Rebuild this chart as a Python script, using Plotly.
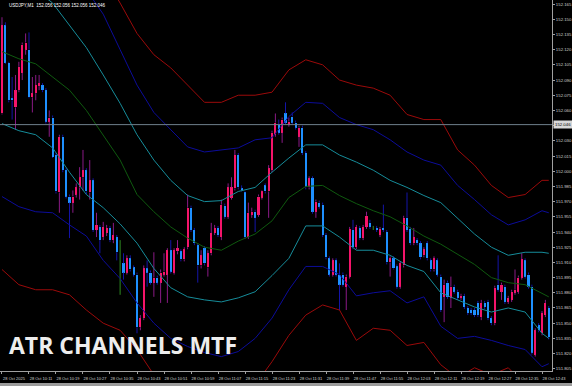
import plotly.graph_objects as go

# ---------------- data ----------------
bar_index = list(range(163))

opens = [152.057,152.144,152.107,152.072,152.063,152.080,152.097,152.120,152.120,152.073,
         152.077,152.084,152.085,152.080,152.049,152.053,152.016,151.979,152.034,152.001,
         151.975,151.969,151.977,151.984,151.994,152.001,151.979,151.991,151.942,151.945,
         151.935,151.939,151.944,151.932,151.935,151.910,151.909,151.900,151.914,151.905,
         151.898,151.846,151.855,151.904,151.900,151.890,151.895,151.890,151.898,151.898,
         151.922,151.900,151.921,151.921,151.913,151.925,151.964,151.942,151.927,151.907,
         151.924,151.905,151.919,151.939,151.944,151.935,151.966,151.955,151.974,151.983,
         152.016,151.983,151.979,151.935,151.957,151.960,151.957,151.974,151.986,151.980,
         152.001,152.036,152.046,152.038,152.057,152.046,152.054,152.048,152.034,152.043,
         152.018,151.984,151.993,151.960,151.969,151.967,151.937,151.914,151.898,151.912,
         151.898,151.898,151.886,151.896,151.942,151.925,151.944,151.934,151.945,151.949,
         151.944,151.944,151.937,151.944,151.940,151.910,151.914,151.906,151.886,151.907,
         151.954,151.943,151.929,151.932,151.929,151.917,151.929,151.912,151.903,151.912,
         151.896,151.876,151.890,151.875,151.886,151.881,151.875,151.877,151.865,151.863,
         151.863,151.870,151.856,151.870,151.871,151.855,151.850,151.888,151.881,151.886,
         151.871,151.873,151.880,151.881,151.895,151.912,151.898,151.886,151.819,151.848,
         151.840,151.858,151.865]

highs = [152.152,152.147,152.108,152.093,152.095,152.108,152.127,152.136,152.137,152.093,
         152.095,152.095,152.087,152.082,152.060,152.055,152.018,152.036,152.036,152.003,
         151.977,151.981,151.988,152.004,152.021,152.003,152.011,151.993,151.959,151.947,
         151.950,151.947,151.946,151.949,151.937,151.932,151.919,151.917,151.917,151.907,
         151.900,151.858,151.907,151.912,151.902,151.920,151.897,151.903,151.919,151.924,
         151.932,151.924,151.932,151.923,151.925,151.977,151.966,151.944,151.929,151.922,
         151.926,151.922,151.949,151.947,151.946,151.972,151.968,151.988,151.994,152.021,
         152.018,151.986,151.980,151.969,151.964,151.962,151.977,151.981,151.988,152.006,
         152.040,152.057,152.051,152.053,152.068,152.053,152.058,152.050,152.045,152.045,
         152.020,151.995,151.995,151.972,151.971,151.969,151.939,151.916,151.914,151.914,
         151.909,151.900,151.898,151.945,151.952,151.947,151.946,151.947,151.960,151.952,
         151.946,151.946,151.945,151.967,151.942,151.916,151.916,151.908,151.911,151.956,
         151.979,151.945,151.944,151.934,151.931,151.925,151.931,151.914,151.916,151.914,
         151.898,151.893,151.892,151.896,151.888,151.883,151.879,151.879,151.867,151.865,
         151.865,151.872,151.873,151.872,151.873,151.857,151.887,151.917,151.890,151.888,
         151.877,151.883,151.903,151.897,151.919,151.914,151.900,151.888,151.845,151.850,
         151.862,151.873,151.867]

lows = [152.056,152.106,152.068,152.051,152.041,152.078,152.090,152.115,152.072,152.058,
        152.070,152.080,152.078,152.047,152.034,152.013,151.978,151.959,151.999,151.973,
        151.934,151.959,151.974,151.972,151.981,151.977,151.972,151.940,151.935,151.919,
        151.932,151.936,151.930,151.929,151.912,151.878,151.893,151.898,151.901,151.896,
        151.840,151.843,151.853,151.886,151.888,151.876,151.888,151.870,151.896,151.870,
        151.899,151.898,151.918,151.911,151.911,151.923,151.940,151.927,151.890,151.904,
        151.907,151.896,151.917,151.937,151.935,151.932,151.953,151.953,151.972,151.981,
        151.982,151.980,151.933,151.933,151.954,151.940,151.955,151.972,151.978,151.954,
        151.999,152.034,152.036,152.028,152.046,152.044,152.046,152.041,152.024,152.016,
        151.982,151.982,151.958,151.954,151.963,151.935,151.913,151.896,151.896,151.896,
        151.863,151.886,151.863,151.894,151.923,151.923,151.932,151.932,151.943,151.943,
        151.942,151.940,151.935,151.940,151.908,151.896,151.903,151.884,151.884,151.905,
        151.940,151.927,151.927,151.927,151.913,151.915,151.912,151.901,151.901,151.896,
        151.861,151.851,151.874,151.865,151.879,151.873,151.873,151.864,151.858,151.858,
        151.856,151.856,151.853,151.864,151.853,151.848,151.848,151.881,151.873,151.869,
        151.869,151.871,151.878,151.879,151.893,151.894,151.884,151.819,151.817,151.841,
        151.838,151.856,151.834]

closes = [152.144,152.107,152.070,152.070,152.080,152.103,152.125,152.127,152.073,152.077,
          152.085,152.087,152.080,152.049,152.053,152.014,151.980,152.034,152.001,151.975,
          151.969,151.975,151.984,151.994,152.001,151.980,151.991,151.942,151.947,151.932,
          151.945,151.944,151.932,151.937,151.920,151.910,151.900,151.914,151.903,151.898,
          151.846,151.855,151.904,151.900,151.890,151.895,151.890,151.900,151.901,151.922,
          151.901,151.922,151.924,151.913,151.923,151.964,151.942,151.929,151.907,151.917,
          151.909,151.919,151.939,151.944,151.937,151.967,151.955,151.984,151.984,152.016,
          151.984,151.981,151.935,151.959,151.960,151.954,151.975,151.980,151.980,152.003,
          152.038,152.048,152.038,152.051,152.048,152.049,152.048,152.043,152.043,152.018,
          151.984,151.993,151.960,151.970,151.965,151.937,151.915,151.898,151.912,151.898,
          151.888,151.888,151.896,151.943,151.925,151.945,151.934,151.945,151.956,151.945,
          151.944,151.942,151.943,151.942,151.910,151.914,151.904,151.886,151.909,151.954,
          151.942,151.929,151.935,151.929,151.915,151.923,151.914,151.903,151.914,151.898,
          151.863,151.888,151.876,151.886,151.881,151.875,151.877,151.866,151.860,151.860,
          151.858,151.858,151.870,151.866,151.855,151.850,151.885,151.883,151.888,151.871,
          151.875,151.881,151.883,151.895,151.913,151.896,151.886,151.821,151.843,151.843,
          151.860,151.870,151.836]

# ATR channel lines (sampled at these bars)
line_bars = [0,5,10,15,20,25,30,35,40,45,50,55,60,65,70,75,80,85,90,95,100,
             105,110,115,120,125,130,135,140,145,150,155,160,162]

upper_red = [152.327,152.307,152.287,152.263,152.238,152.213,152.194,152.166,152.136,152.115,
             152.102,152.085,152.068,152.068,152.075,152.075,152.078,152.100,152.110,152.105,
             152.090,152.085,152.082,152.075,152.056,152.051,152.051,152.021,152.006,151.986,
             151.974,151.977,151.991,151.991]
upper_navy = [152.258,152.248,152.238,152.223,152.208,152.179,152.155,152.120,152.085,152.058,
              152.041,152.024,152.019,152.021,152.023,152.031,152.033,152.054,152.068,152.067,
              152.053,152.046,152.041,152.031,152.019,152.011,152.006,151.986,151.972,151.957,
              151.947,151.952,151.961,151.959]
upper_teal = [152.194,152.187,152.179,152.166,152.144,152.122,152.095,152.067,152.036,152.011,
              151.991,151.976,151.970,151.971,151.980,151.984,151.999,152.013,152.026,152.026,
              152.016,152.009,152.001,151.991,151.984,151.976,151.969,151.954,151.938,151.925,
              151.917,151.920,151.920,151.919]
middle_green = [152.118,152.111,152.106,152.093,152.080,152.060,152.036,152.011,151.977,151.960,
                151.945,151.934,151.925,151.922,151.931,151.938,151.951,151.974,151.985,151.986,
                151.976,151.968,151.961,151.955,151.946,151.936,151.928,151.918,151.908,151.895,
                151.890,151.888,151.880,151.876]
lower_teal = [152.047,152.040,152.036,152.023,151.999,151.977,151.964,151.948,151.929,151.904,
              151.885,151.876,151.873,151.871,151.875,151.881,151.897,151.914,151.946,151.946,
              151.935,151.922,151.922,151.917,151.907,151.901,151.880,151.873,151.866,151.861,
              151.865,151.861,151.840,151.835]
lower_navy = [151.975,151.965,151.960,151.959,151.947,151.936,151.912,151.894,151.870,151.850,
              151.835,151.827,151.821,151.817,151.822,151.835,151.855,151.883,151.906,151.906,
              151.898,151.877,151.880,151.882,151.870,151.876,151.847,151.835,151.837,151.833,
              151.828,151.824,151.807,151.810]
lower_red = [151.903,151.888,151.883,151.883,151.878,151.863,151.850,151.843,151.824,151.799,
             151.779,151.769,151.764,151.764,151.769,151.789,151.812,151.838,151.858,151.868,
             151.863,151.833,151.845,151.843,151.828,151.831,151.809,151.796,151.806,151.799,
             151.806,151.789,151.774,151.774]

tick_bars = [0,8,16,24,32,40,48,56,64,72,80,88,96,104,112,120,128,136,144,152,160]
tick_labels = ["28 Oct 2025","28 Oct 10:11","28 Oct 10:19","28 Oct 10:27","28 Oct 10:35",
               "28 Oct 10:43","28 Oct 10:51","28 Oct 10:59","28 Oct 11:07","28 Oct 11:15",
               "28 Oct 11:23","28 Oct 11:31","28 Oct 11:39","28 Oct 11:47","28 Oct 11:55",
               "28 Oct 12:03","28 Oct 12:11","28 Oct 12:19","28 Oct 12:27","28 Oct 12:35",
               "28 Oct 12:43"]
price_ticks = [151.805,151.820,151.835,151.850,151.865,151.880,151.895,151.910,151.925,
               151.940,151.955,151.970,151.985,152.000,152.015,152.030,152.045,152.060,
               152.075,152.090,152.105,152.120,152.135,152.150,152.165]
current_price = 152.046
header_text = "USDJPY,M1  152.056 152.056 152.056 152.046"
title_text = "ATR CHANNELS MTF"

# ---------------- styles ----------------
BULL = "#F5146A"
BEAR = "#1E90FF"
BULL_WICK = "#8A1A86"
BEAR_WICK = "#1414A8"
DOJI = "#2E8B22"
RED = "#9B0A0A"
NAVY = "#0C0C9A"
TEAL = "#168C9A"
GREEN = "#0F5A0F"
TXT = "#D2D2D2"
SMALL = "Liberation Sans"

fig = go.Figure()

# bodies
body_base, body_h, body_col = [], [], []
for o, c in zip(opens, closes):
    body_base.append(min(o, c))
    body_h.append(max(abs(c - o), 0.0009) if c != o else 0)
    body_col.append(BULL if c > o else (BEAR if c < o else DOJI))
fig.add_trace(go.Bar(x=bar_index, y=body_h, base=body_base, width=0.62,
                     marker=dict(color=body_col, line=dict(width=0)),
                     hoverinfo="skip"))

# wicks (drawn outside bodies)
groups = {"bull": ([], []), "bear": ([], []), "doji": ([], [])}
for i, o, h, l, c in zip(bar_index, opens, highs, lows, closes):
    key = "bull" if c > o else ("bear" if c < o else "doji")
    xs, ys = groups[key]
    top, bot = max(o, c), min(o, c)
    if key == "doji":
        xs += [i, i, None]
        ys += [h, l, None]
    else:
        xs += [i, i, None, i, i, None]
        ys += [h, top, None, bot, l, None]
for key, col in (("bull", BULL_WICK), ("bear", BEAR_WICK), ("doji", DOJI)):
    xs, ys = groups[key]
    fig.add_trace(go.Scatter(x=xs, y=ys, mode="lines", line=dict(color=col, width=1),
                             hoverinfo="skip", connectgaps=False))

# channels
for vals, col in ((upper_red, RED), (upper_navy, NAVY), (upper_teal, TEAL),
                  (middle_green, GREEN), (lower_teal, TEAL), (lower_navy, NAVY),
                  (lower_red, RED)):
    fig.add_trace(go.Scatter(x=line_bars, y=vals, mode="lines",
                             line=dict(color=col, width=1), hoverinfo="skip"))

# current price line
fig.add_hline(y=current_price, line=dict(color="#6F7F8C", width=1))

fig.update_layout(
    width=572, height=386,
    margin=dict(l=0, r=20, t=0, b=15),
    paper_bgcolor="black", plot_bgcolor="black",
    showlegend=False, bargap=0,
    font=dict(family=SMALL, color=TXT),
    xaxis=dict(range=[-0.59, 162.96], tickmode="array", tickvals=tick_bars,
               ticktext=tick_labels, tickfont=dict(family=SMALL, size=4, color=TXT),
               tickangle=0,
               ticks="outside", ticklen=2, tickcolor="#A0A0A0",
               showgrid=False, zeroline=False, showline=True,
               linecolor="#A0A0A0", linewidth=1, ticklabelshift=12,
               ticklabelstandoff=1),
    yaxis=dict(side="right", range=[151.8028, 152.169], tickmode="array",
               tickvals=price_ticks, tickformat=".3f",
               tickfont=dict(family=SMALL, size=4.3, color=TXT), ticks="outside", ticklen=2,
               tickcolor="#A0A0A0", showgrid=False, zeroline=False,
               showline=True, mirror=True, linecolor="#A0A0A0", linewidth=1),
)

fig.add_annotation(x=1, xref="paper", xanchor="left", xshift=1,
                   y=current_price, yref="y", yanchor="middle",
                   text=f"{current_price:.3f}", showarrow=False,
                   bgcolor="#D8D8D8", borderpad=1,
                   font=dict(family=SMALL, size=4.3, color="black"))
fig.add_annotation(x=0, xref="paper", xanchor="left", xshift=7,
                   y=1, yref="paper", yanchor="top", yshift=-1,
                   text=header_text, showarrow=False,
                   font=dict(family=SMALL, size=4.5, color="white"))
fig.add_annotation(x=0, xref="paper", xanchor="left", xshift=7,
                   y=0.07, yref="paper", yanchor="middle",
                   text=f"<b>{title_text}</b>", showarrow=False,
                   font=dict(family="Open Sans", size=23, color="#EDEDED"))
fig.add_shape(type="rect", xref="paper", yref="paper", x0=0, x1=1.04,
              y0=-0.0404, y1=-0.0325, fillcolor="#9B9B9B", line=dict(width=0),
              layer="above")

fig.write_html("out.html")
